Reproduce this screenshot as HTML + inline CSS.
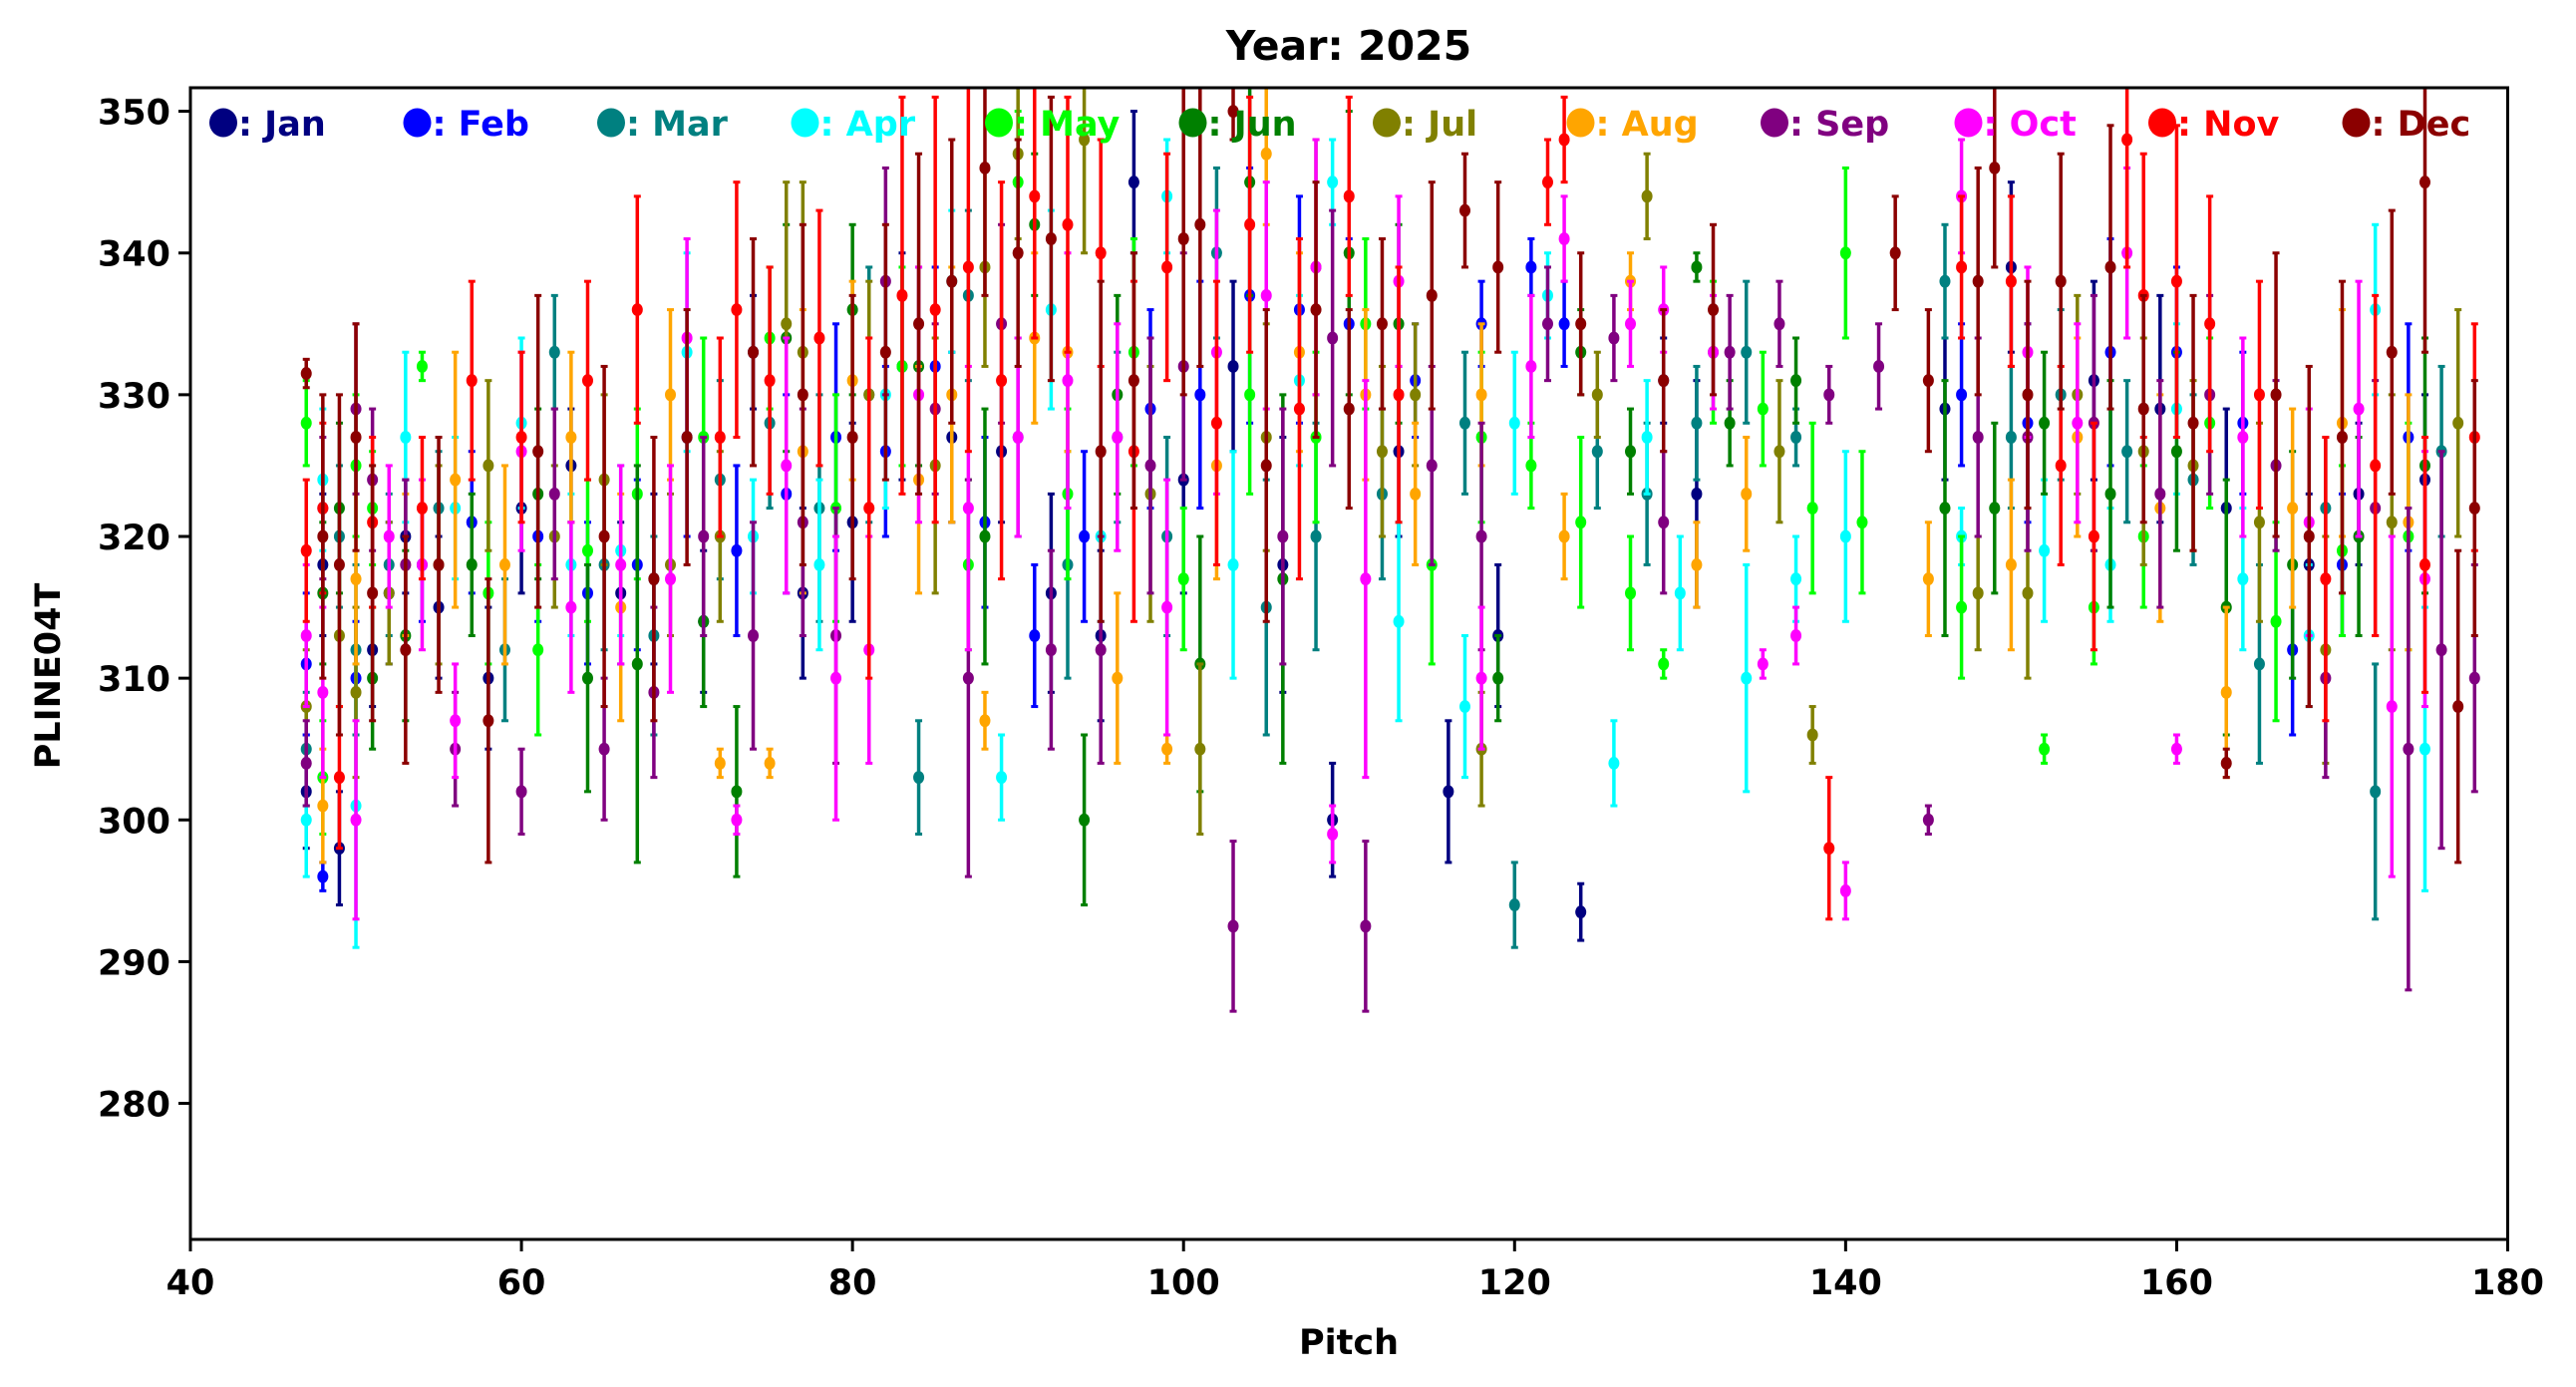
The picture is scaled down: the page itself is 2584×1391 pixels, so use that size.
<!DOCTYPE html>
<html><head><meta charset="utf-8"><style>
html,body{margin:0;padding:0;background:#fff;}
svg{display:block;font-family:"DejaVu Sans","Liberation Sans",sans-serif;font-weight:bold;}
</style></head><body>
<svg id="chart" width="2584" height="1391" viewBox="0 0 2584 1391" xmlns="http://www.w3.org/2000/svg">
<rect width="2584" height="1391" fill="#fff"/>
<text x="1353" y="60" font-size="41" text-anchor="middle">Year: 2025</text>
<text x="1353" y="1358" font-size="35" text-anchor="middle">Pitch</text>
<text x="0" y="0" font-size="35" text-anchor="middle" transform="translate(60,678) rotate(-90)">PLINE04T</text>
<g id="data"></g>
<rect x="191" y="88" width="2324.5" height="1155" fill="none" stroke="#000" stroke-width="3"/>
<g id="ticks"></g>
<g id="legend"></g>
</svg>
<script>
const months=["Jan","Feb","Mar","Apr","May","Jun","Jul","Aug","Sep","Oct","Nov","Dec"];
const colors=["#000080","#0000ff","#008080","#00ffff","#00ff00","#008000","#808000","#ffa500","#800080","#ff00ff","#ff0000","#8b0000"];
const xTicks=[40,60,80,100,120,140,160,180];
const yTicks=[280,290,300,310,320,330,340,350];

const janX=[47,48,49,51,53,55,58,60,63,66,68,71,74,77,80,83,86,89,92,95,97,100,103,106,109,113,116,119,124,129,131,146,150,155,159,163,168,171,175];
const janY=[302,318,298,312,320,315,310,322,325,316,317,314,333,316,321,332,327,326,316,313,345,324,332,318,300,326,302,313,293.5,331,323,329,339,331,329,322,318,323,324];
const janE=[4,5,4,4,4,5,5,6,4,5,6,5,4,6,7,8,6,5,7,6,5,8,6,9,4,6,5,5,2,3,8,5,6,7,8,7,5,5,6];
const febX=[47,48,50,52,54,57,61,64,67,70,73,76,79,82,85,88,91,94,98,101,104,107,110,114,118,121,123,147,151,156,160,164,167,170,174];
const febY=[311,296,310,316,318,321,320,316,318,327,319,323,327,326,332,321,313,320,329,330,337,336,335,331,335,339,335,330,328,333,333,328,312,318,327];
const febE=[5,1,4,5,4,5,6,5,6,7,6,7,8,6,7,6,5,6,7,8,9,8,6,4,3,2,3,5,7,8,6,5,6,5,8];
const marX=[47,49,50,52,55,59,62,65,68,72,75,78,81,84,87,90,93,96,99,102,105,108,112,117,120,125,128,131,134,137,146,150,153,157,161,165,169,172,176];
const marY=[305,320,312,318,322,312,333,318,313,324,328,322,330,303,337,327,318,327,320,340,315,320,323,328,294,326,323,328,333,327,338,327,330,326,324,311,322,302,326];
const marE=[4,5,6,5,4,5,4,6,7,7,6,8,9,4,6,7,8,6,7,6,9,8,6,5,3,4,5,4,5,2,4,5,6,5,6,7,5,9,6];
const aprX=[47,48,50,53,56,60,63,66,70,74,78,82,86,89,92,95,99,103,107,109,113,117,120,122,126,128,130,134,137,140,147,152,156,160,164,168,172,175];
const aprY=[300,324,301,327,322,328,318,319,333,320,318,330,338,303,336,320,344,318,331,345,314,308,328,337,304,327,316,310,317,320,320,319,318,329,317,313,336,305];
const aprE=[4,5,10,6,5,6,5,6,7,4,6,8,5,3,7,6,4,8,6,3,7,5,5,3,3,4,4,8,3,6,2,5,4,6,5,5,6,10];
const mayX=[47,48,50,51,54,58,61,64,67,71,75,79,83,87,90,93,97,100,104,108,111,115,118,121,124,127,129,132,135,138,140,141,147,152,155,158,162,166,170,174];
const mayY=[328,303,325,322,332,316,312,319,323,327,334,322,332,318,345,323,333,317,330,327,335,318,327,325,321,316,311,333,329,322,340,321,315,305,315,320,328,314,319,320];
const mayE=[3,4,5,4,1,5,6,5,6,7,5,8,7,6,5,6,8,5,7,6,6,7,6,3,6,4,1,5,4,6,6,5,5,1,4,5,6,7,6,8];
const junX=[48,49,51,53,57,61,64,67,71,73,76,80,84,88,91,94,96,101,104,106,110,113,119,124,127,131,133,137,146,149,152,156,160,163,167,171,175];
const junY=[316,322,310,313,318,323,310,311,314,302,334,336,332,320,342,300,330,311,345,317,340,335,310,333,326,339,328,331,322,322,328,323,326,315,318,320,325];
const junE=[5,6,5,6,5,6,8,14,6,6,8,6,7,9,5,6,7,9,8,13,10,7,3,3,3,1,3,3,9,6,5,8,7,9,8,7,9];
const julX=[47,49,50,52,55,58,62,65,69,72,76,77,81,85,88,90,94,98,101,105,108,112,114,118,125,128,136,138,148,151,154,158,161,165,169,173,177];
const julY=[308,313,309,316,318,325,320,324,318,320,335,333,330,325,339,347,348,323,305,327,339,326,330,305,330,344,326,306,316,316,330,326,325,321,312,321,328];
const julE=[4,5,6,5,7,6,5,6,5,6,10,12,8,9,7,6,8,9,6,8,9,6,5,4,3,3,5,2,4,6,7,8,6,7,8,9,8];
const augX=[48,50,53,56,59,63,66,69,72,75,77,80,84,86,88,91,93,96,99,102,105,107,111,114,118,123,127,131,134,145,150,154,159,163,167,170,174];
const augY=[301,317,318,324,318,327,315,330,304,304,326,331,324,330,307,334,333,310,305,325,347,333,330,323,330,320,338,318,323,317,318,327,322,309,322,328,321];
const augE=[4,6,5,9,7,6,8,6,1,1,10,7,8,9,2,6,7,6,1,8,5,7,6,5,5,3,2,3,4,4,6,7,8,6,7,8,9];
const sepX=[47,48,50,51,53,56,60,62,65,68,71,74,77,79,82,85,87,89,92,95,98,100,103,106,109,111,115,118,122,126,129,133,136,139,142,145,148,151,155,159,162,166,169,172,174,176,178];
const sepY=[304,322,329,324,318,305,302,323,305,309,320,313,321,313,338,329,310,335,312,312,325,332,292.5,320,334,292.5,325,320,335,334,321,333,335,330,332,300,327,327,328,323,330,325,310,322,305,312,310];
const sepE=[3,5,6,5,6,4,3,6,5,6,7,8,8,9,8,6,14,7,7,8,9,8,6,9,9,6,7,8,4,3,5,4,3,2,3,1,7,8,9,8,7,6,7,9,17,14,8];
const octX=[47,48,50,52,54,56,60,63,66,69,70,73,76,79,81,84,87,90,93,96,99,102,105,108,109,111,113,118,121,123,127,129,132,135,137,140,147,151,154,157,160,164,168,171,173,175];
const octY=[313,309,300,320,318,307,326,315,318,317,334,300,325,310,312,330,322,327,331,327,315,333,337,339,299,317,338,310,332,341,335,336,333,311,313,295,344,333,328,340,305,327,321,329,308,317];
const octE=[5,6,7,5,6,4,7,6,7,8,7,1,9,10,8,9,10,7,9,8,9,10,8,9,2,14,6,5,5,3,3,3,4,1,2,2,4,6,7,6,1,7,8,9,12,9];
const novX=[47,48,49,51,54,57,60,64,67,72,73,75,78,81,83,85,87,89,91,93,95,97,99,102,104,107,110,113,122,123,139,147,150,153,155,157,158,160,162,165,169,172,175,178];
const novY=[319,322,303,321,322,331,327,331,336,327,336,331,334,322,337,336,339,331,344,342,340,326,339,328,342,329,344,330,345,348,298,339,338,325,320,348,337,338,335,330,317,325,318,327];
const novE=[5,6,5,6,5,7,6,7,8,7,9,8,9,12,14,15,13,14,10,9,8,12,8,10,9,12,7,9,3,3,5,5,6,7,8,9,10,11,9,8,10,12,9,8];
const decX=[47,48,49,50,51,53,55,58,61,65,68,70,74,77,80,82,84,86,88,90,92,95,97,100,101,103,105,108,110,112,115,117,119,124,129,132,143,145,148,149,151,153,156,158,161,163,166,168,170,173,175,177,178];
const decY=[331.5,320,318,327,316,312,318,307,326,320,317,327,333,330,327,333,335,338,346,340,341,326,331,341,342,350,325,336,329,335,337,343,339,335,331,336,340,331,338,346,330,338,339,329,328,304,330,320,327,333,345,308,322];
const decE=[1,10,12,8,9,8,9,10,11,12,10,9,8,12,10,9,12,10,9,8,10,12,9,11,10,2,11,9,7,6,8,4,6,5,5,6,4,5,8,7,8,9,10,8,9,1,10,12,11,10,12,11,9];

const seriesX=[janX,febX,marX,aprX,mayX,junX,julX,augX,sepX,octX,novX,decX];
const seriesY=[janY,febY,marY,aprY,mayY,junY,julY,augY,sepY,octY,novY,decY];
const seriesE=[janE,febE,marE,aprE,mayE,junE,julE,augE,sepE,octE,novE,decE];

const NS="http://www.w3.org/2000/svg";
const X0=191,X1=2515.5,Y0=1243,Y1=88;
const xMin=40,xMax=180,yMin=270.4,yMax=351.66;
function sx(v){return X0+(v-xMin)/(xMax-xMin)*(X1-X0);}
function sy(v){return Y0-(v-yMin)/(yMax-yMin)*(Y0-Y1);}
function mk(tag,attrs){const e=document.createElementNS(NS,tag);for(const k in attrs)e.setAttribute(k,attrs[k]);return e;}

const data=document.getElementById('data');
for(let m=0;m<12;m++){
  const g=mk('g',{});
  
  
  const xs=seriesX[m],ys=seriesY[m],es=seriesE[m];
  const n=Math.min(xs.length,ys.length,es.length);
  for(let i=0;i<n;i++){
    const cx=sx(xs[i]),top=sy(Math.min(ys[i]+es[i],yMax)),bot=sy(ys[i]-es[i]),cy=sy(ys[i]);
    const bar=mk('line',{x1:cx,x2:cx,y1:top,y2:bot,stroke:colors[m],'stroke-width':3.5});
    
    
    g.appendChild(bar);
    g.appendChild(mk('line',{x1:cx-3.5,x2:cx+3.5,y1:top,y2:top,stroke:colors[m],'stroke-width':3}));
    g.appendChild(mk('line',{x1:cx-3.5,x2:cx+3.5,y1:bot,y2:bot,stroke:colors[m],'stroke-width':3}));
    const pt=mk('ellipse',{cx:cx,cy:cy,rx:5.5,ry:6.5,fill:colors[m]});
    
    
    g.appendChild(pt);
  }
  data.appendChild(g);
}

const ticks=document.getElementById('ticks');
xTicks.forEach(v=>{
  const x=sx(v);
  ticks.appendChild(mk('line',{x1:x,x2:x,y1:Y0,y2:Y0+12,stroke:'#000','stroke-width':3}));
  const t=mk('text',{x:x,y:Y0+55,'font-size':35,'text-anchor':'middle'});
  
  
  t.textContent=v;ticks.appendChild(t);
});
yTicks.forEach(v=>{
  const y=sy(v);
  ticks.appendChild(mk('line',{x1:X0-12,x2:X0,y1:y,y2:y,stroke:'#000','stroke-width':3}));
  const t=mk('text',{x:X0-20,y:y+13,'font-size':35,'text-anchor':'end'});
  
  
  t.textContent=v;ticks.appendChild(t);
});

const legend=document.getElementById('legend');
months.forEach((mName,i)=>{
  const cx=224+i*194.5;
  const g=mk('g',{});
  
  
  g.appendChild(mk('ellipse',{cx:cx,cy:123,rx:14,ry:14.5,fill:colors[i]}));
  const t=mk('text',{x:cx+15,y:136,'font-size':35,fill:colors[i]});
  t.textContent=': '+mName;
  g.appendChild(t);
  legend.appendChild(g);
});
</script>
</body></html>
